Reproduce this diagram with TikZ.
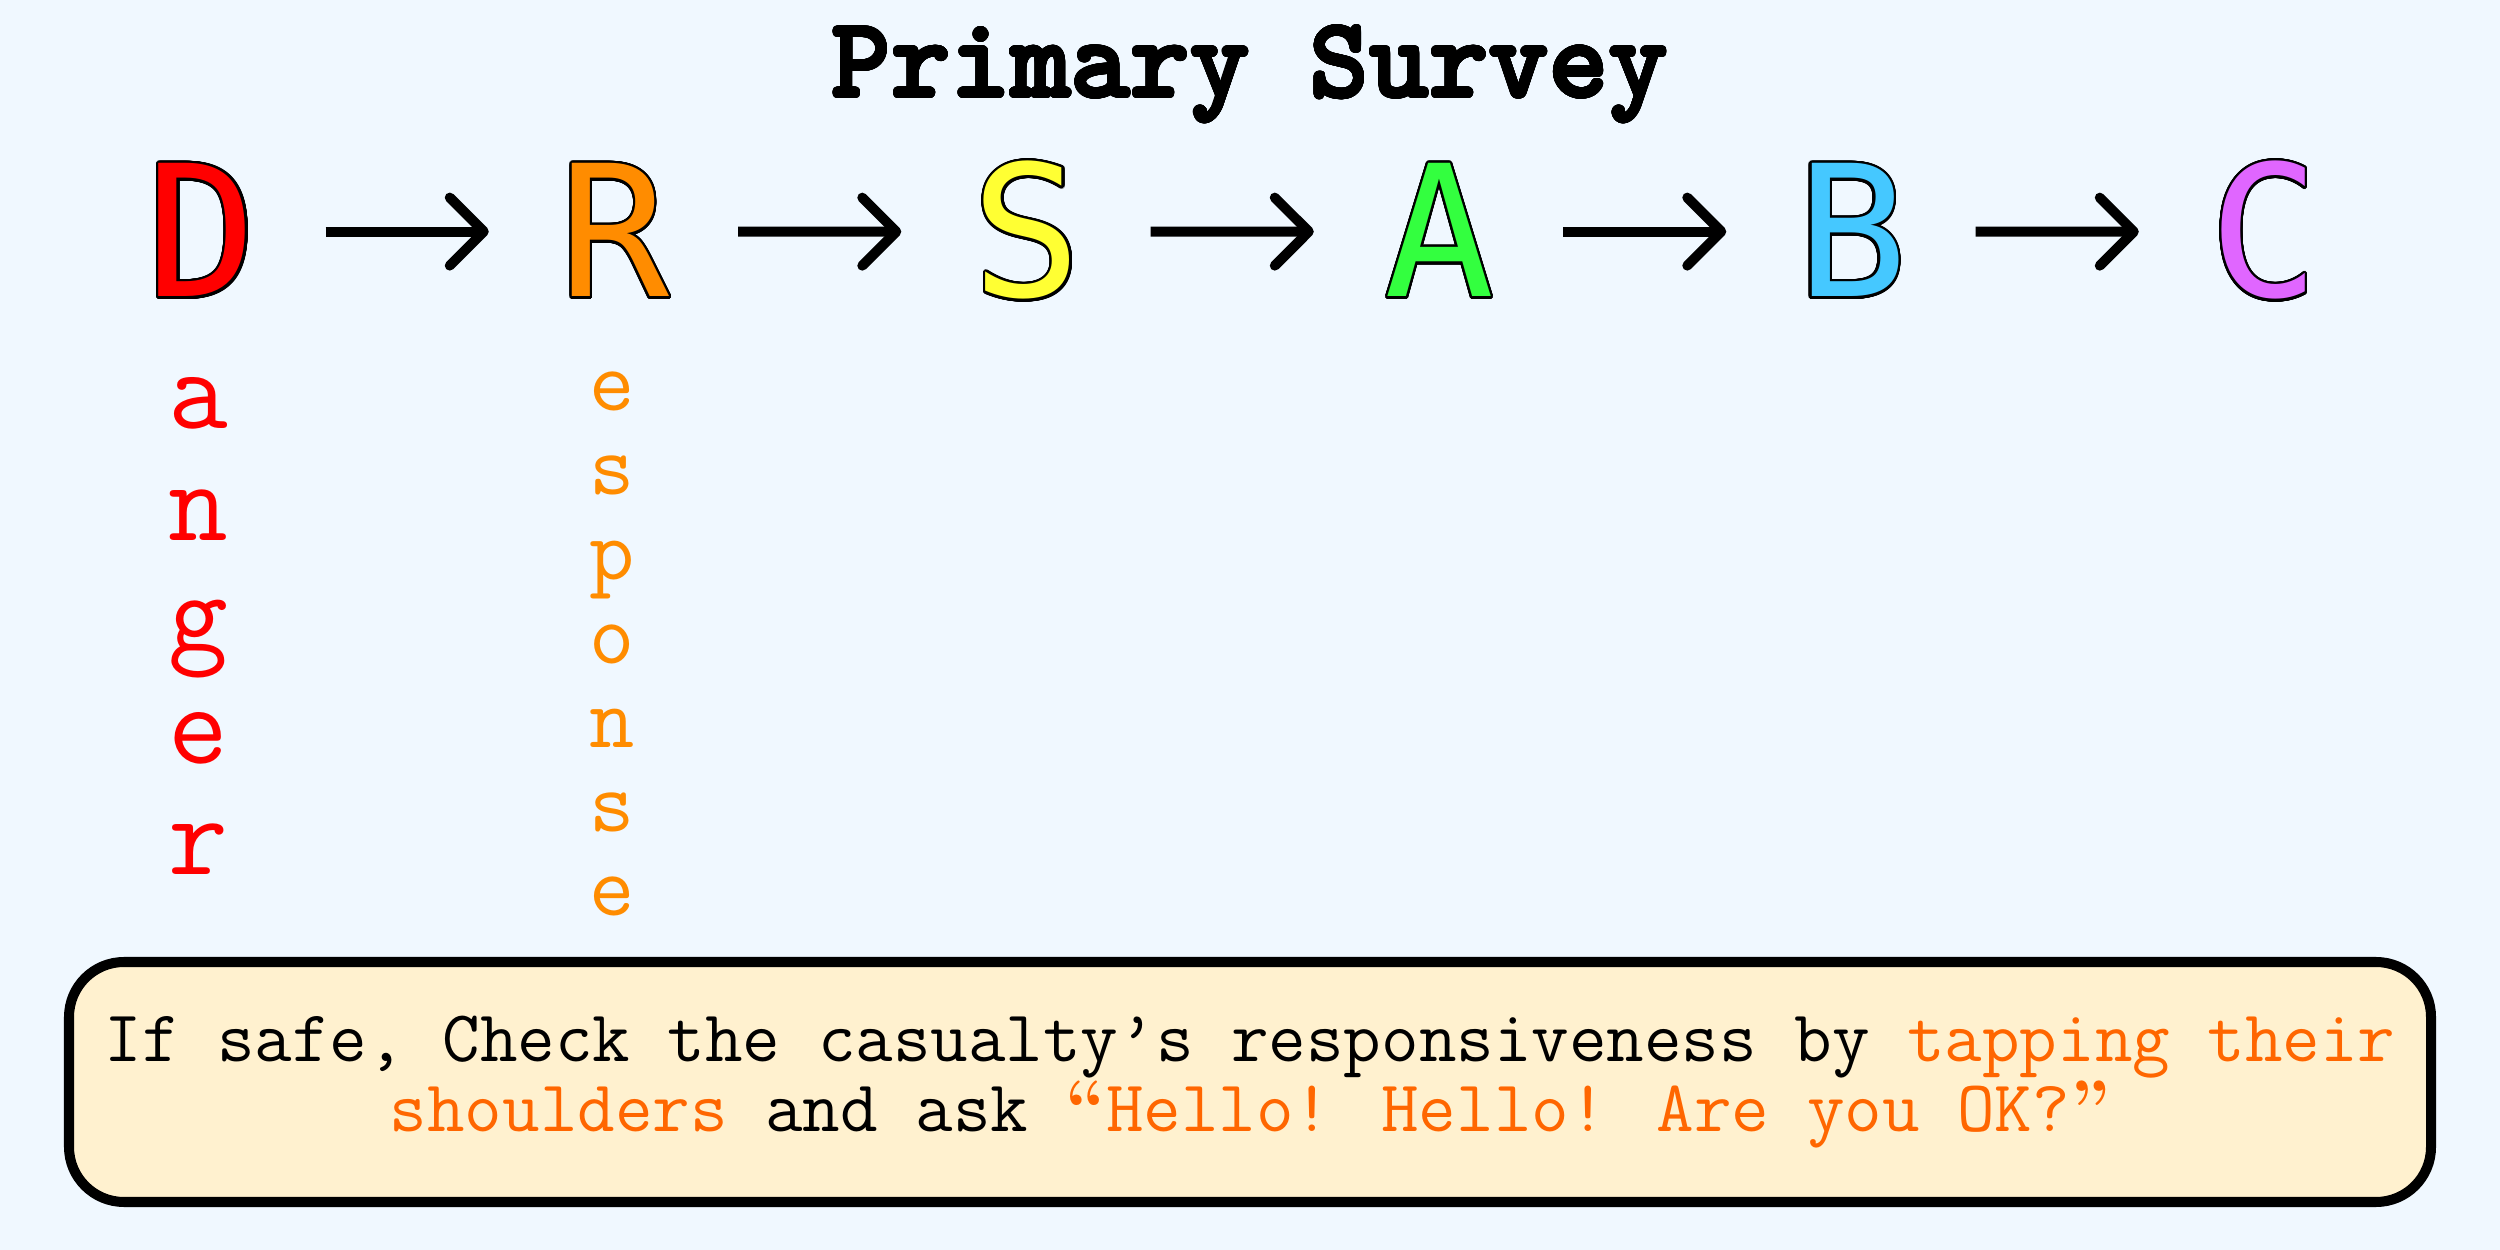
\documentclass[tikz,border=0pt]{standalone}
\usepackage{fontspec}
\usepackage{contour}
\usetikzlibrary{arrows.meta}
\newfontfamily\capsfont{DejaVu Sans Mono}
\contourlength{0.7pt}
\contournumber{32}

\definecolor{bgblue}{HTML}{F0F8FF}
\definecolor{boxcream}{HTML}{FFF1CF}
\definecolor{dangerred}{HTML}{FF0000}
\definecolor{resporange}{HTML}{FF8C00}
\definecolor{safeyellow}{HTML}{FFFF33}
\definecolor{airgreen}{HTML}{33FF3F}
\definecolor{breathblue}{HTML}{45C8FF}
\definecolor{circpurple}{HTML}{E066FF}
\definecolor{hint}{HTML}{FF6600}

\newcommand{\oq}{{\rmfamily\bfseries “}}
\newcommand{\cq}{{\rmfamily\bfseries ”}}

\begin{document}
\begin{tikzpicture}[>={Straight Barb[length=3.4mm,width=6.8mm,round]},
    letter/.style={font=\capsfont\fontsize{52}{52}\selectfont, inner sep=0pt, anchor=base},
    flow/.style={->, line width=2.85pt, shorten <=0.68cm, shorten >=0.70cm},
    spell/.style={font=\ttfamily\fontsize{33}{33}\selectfont, inner sep=0pt, anchor=base}]
    \fill[bgblue] (0,0) rectangle (25,12.5);
    \useasboundingbox (0,0) rectangle (25,12.5);

    % title
    \node[font=\ttfamily\bfseries\fontsize{32.4}{33}\selectfont, anchor=base] (title) at (12.5,11.53)
        {\contourlength{0.35pt}\contour{black}{Primary Survey}};

    % the six letters
    \node[letter, text=dangerred] (D) at (2.02,9.53) {\contour{black}{D}};
    \node[letter, text=resporange] (R) at (6.145,9.53) {\contour{black}{R}};
    \node[letter, text=safeyellow] (S) at (10.27,9.53) {\contour{black}{S}};
    \node[letter, text=airgreen] (A) at (14.395,9.53) {\contour{black}{A}};
    \node[letter, text=breathblue] (B) at (18.52,9.53) {\contour{black}{B}};
    \node[letter, text=circpurple] (C) at (22.645,9.53) {\contour{black}{C}};

    \draw[flow] (D.east) -- (R.west);
    \draw[flow] (R.east) -- (S.west);
    \draw[flow] (S.east) -- (A.west);
    \draw[flow] (A.east) -- (B.west);
    \draw[flow] (B.east) -- (C.west);

    % spelled out words
    \foreach \ch [count=\i] in {a,n,g,e,r}
        \node[spell, text=dangerred] (d\i) at (1.98,8.21-1.115*\i+1.115) {\ch};
    \foreach \ch [count=\i] in {e,s,p,o,n,s,e}
        \node[spell, text=resporange, font=\ttfamily\fontsize{25}{25}\selectfont] (r\i) at (6.12,8.392-0.842*\i+0.842) {\ch};

    % instruction box
    \node[draw, line width=2.85pt, rounded corners=0.55cm, fill=boxcream,
        minimum width=23.62cm, minimum height=2.4cm, align=center,
        font=\ttfamily\fontsize{20.75}{20}\selectfont] (note) at (12.5,1.68)
        {If safe, Check the casualty’s responsiveness by \textcolor{hint}{tapping their}\\
         \textcolor{hint}{shoulders} and ask \textcolor{hint}{\oq Hello! Hello! Are you OK?\cq}};
\end{tikzpicture}
\end{document}
